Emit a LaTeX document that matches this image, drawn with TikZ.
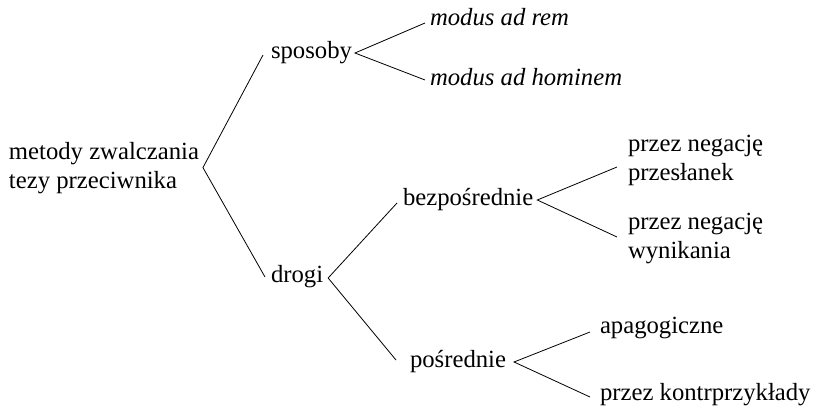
\documentclass[tikz,border=0pt]{standalone}
\usepackage{fontspec}
\setmainfont{Liberation Serif}
\newfontfamily\serifdiag{Liberation Serif}
\usetikzlibrary{calc}
\tikzset{
  lbl/.style={inner sep=0pt, outer sep=0pt, anchor=base west, align=left,
    font=\serifdiag\fontsize{24.7pt}{29pt}\selectfont},
  conn/.style={draw=black, line width=0.8pt}
}
\begin{document}
\begin{tikzpicture}[x=1pt,y=-1pt]
\useasboundingbox (0,0) rectangle (814,407);
% nodes (base = baseline of last line)
\node[lbl] (root) at (9,188) {metody zwalczania\\tezy przeciwnika};
\node[lbl] (spos) at (271,58.5) {sposoby};
\node[lbl] (drogi) at (271,282.5) {drogi};
\node[lbl] (mar) at (430,25.5) {\itshape modus ad rem};
\node[lbl] (mah) at (430,85.5) {\itshape modus ad hominem};
\node[lbl] (bez) at (403,205.5) {bezpośrednie};
\node[lbl] (pn1) at (628,180.5) {przez negację\\przesłanek};
\node[lbl] (pn2) at (628,258.5) {przez negację\\wynikania};
\node[lbl] (pos) at (410,367.5) {pośrednie};
\node[lbl] (apa) at (600,333.5) {apagogiczne};
\node[lbl] (kon) at (600,400.5) {przez kontrprzykłady};
% connectors
\coordinate (aRoot) at ($(root.east)+(4,0)$);
\draw[conn] ($(spos.base west)+(-8,-3.5)$) -- (aRoot) -- ($(drogi.base west)+(-6,-5.5)$);
\coordinate (aSpos) at ($(spos.base east)+(3,-5.5)$);
\draw[conn] ($(mar.base west)+(-5,-2.5)$) -- (aSpos) -- ($(mah.base west)+(-5,-5.5)$);
\coordinate (aDrogi) at ($(drogi.base east)+(5,-4.5)$);
\draw[conn] ($(bez.base west)+(-6,-2.5)$) -- (aDrogi) -- ($(pos.base west)+(-14,-7.5)$);
\coordinate (aBez) at ($(bez.base east)+(4,-5.5)$);
\draw[conn] ($(pn1.base west)+(-11,-13.5)$) -- (aBez) -- ($(pn2.base west)+(-11,-21.5)$);
\coordinate (aPos) at ($(pos.base east)+(8,-5.5)$);
\draw[conn] ($(apa.base west)+(-10,-1.5)$) -- (aPos) -- ($(kon.base west)+(-10,-3.5)$);
\end{tikzpicture}
\end{document}
